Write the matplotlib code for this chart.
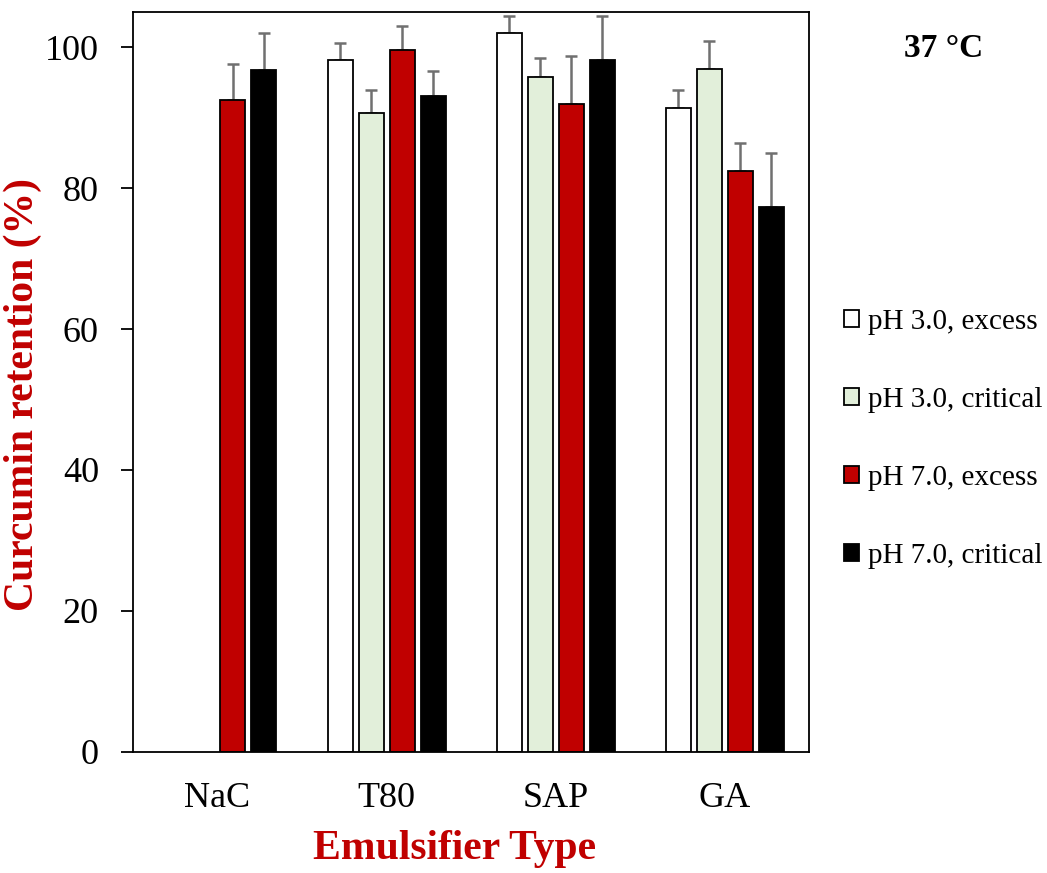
import numpy as np
import matplotlib.pyplot as plt

plt.rcParams['font.family'] = 'Liberation Serif'

emulsifiers = ['NaC', 'T80', 'SAP', 'GA']
series = ['pH 3.0, excess', 'pH 3.0, critical', 'pH 7.0, excess', 'pH 7.0, critical']
colors = ['white', '#E2EFDA', '#C00000', 'black']

# retention (%) per emulsifier; NaC has no pH 3.0 data
ph3_excess = [np.nan, 98.2, 102.1, 91.4]
ph3_critical = [np.nan, 90.7, 95.8, 97.0]
ph7_excess = [92.5, 99.7, 91.9, 82.4]
ph7_critical = [96.8, 93.1, 98.2, 77.3]

ph3_excess_err = [0, 2.45, 2.4, 2.6]
ph3_critical_err = [0, 3.3, 2.7, 3.9]
ph7_excess_err = [5.1, 3.3, 6.9, 4.1]
ph7_critical_err = [5.3, 3.6, 6.3, 7.7]

values = [ph3_excess, ph3_critical, ph7_excess, ph7_critical]
errors = [ph3_excess_err, ph3_critical_err, ph7_excess_err, ph7_critical_err]

fig = plt.figure(figsize=(10.47, 8.73), dpi=100)
ax = fig.add_axes([0.127, 0.139, 0.646, 0.847])

x = np.arange(len(emulsifiers))
step = 0.183
width = 0.148
offsets = (np.arange(4) - 1.5) * step

for i in range(4):
    # groups without a measurement get no bar at all
    vals = np.array(values[i], dtype=float)
    errs = np.array(errors[i], dtype=float)
    ok = ~np.isnan(vals)
    ax.bar(x[ok] + offsets[i], vals[ok], width, color=colors[i],
           edgecolor='black', linewidth=1.3, label=series[i], zorder=2)
    ax.errorbar(x[ok] + offsets[i], vals[ok],
                yerr=[np.zeros(ok.sum()), errs[ok]],
                fmt='none', ecolor='#707070', elinewidth=1.8,
                capsize=4.5, capthick=1.8, zorder=1)

ax.set_xlim(-0.5, 3.5)
ax.set_ylim(0, 105)
ax.set_yticks([0, 20, 40, 60, 80, 100])
ax.set_xticks(x)
ax.set_xticklabels(emulsifiers)
ax.tick_params(axis='x', length=0, pad=22, labelsize=26)
ax.tick_params(axis='y', direction='out', length=9, width=1.3,
               pad=15.5, labelsize=26)
for s in ax.spines.values():
    s.set_linewidth(1.3)

ax.set_ylabel('Curcumin retention (%)', fontsize=30, fontweight='bold',
              color='#C00000')
ax.yaxis.set_label_coords(-0.135, 0.483)
ax.set_xlabel('Emulsifier Type', fontsize=30, fontweight='bold',
              color='#C00000')
ax.xaxis.set_label_coords(0.476, -0.106)

fig.text(0.901, 0.945, '37 °C', fontsize=24, fontweight='bold',
         ha='center', va='center')

leg = ax.legend(loc='center left', bbox_to_anchor=(1.0, 0.423), frameon=False,
                fontsize=21, handlelength=0.5, handleheight=0.5,
                handletextpad=0.3, labelspacing=1.78, borderaxespad=0.8)

fig.savefig('out.png', dpi=100)
